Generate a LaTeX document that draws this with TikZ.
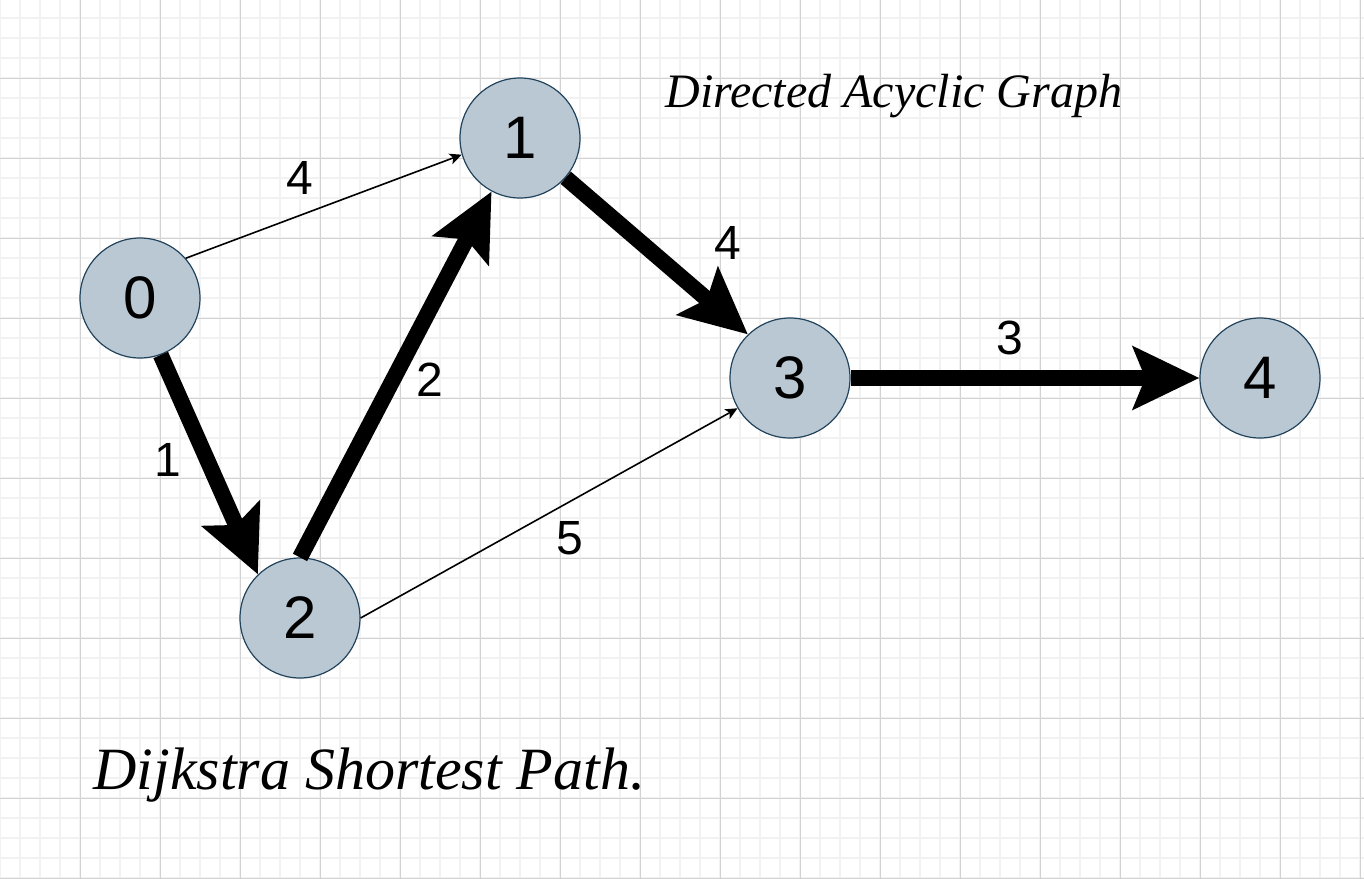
\documentclass[tikz,border=0pt]{standalone}
\usepackage{fontspec}
\setmainfont{Liberation Serif}
\setsansfont{Liberation Sans}
\usetikzlibrary{arrows.meta}
\definecolor{NodeFill}{HTML}{BAC8D3}
\definecolor{NodeLine}{HTML}{23445D}
\definecolor{MinorGrid}{HTML}{F2F2F2}
\definecolor{MajorGrid}{HTML}{D2D2D2}
\tikzset{
  vertex/.style={circle,draw=NodeLine,fill=NodeFill,line width=0.6pt,minimum size=60pt,inner sep=0pt,font=\sffamily\fontsize{30}{36}\selectfont},
  weight/.style={font=\sffamily\fontsize{24}{28}\selectfont,inner sep=0pt},
  path edge/.style={line width=8pt,-{Stealth[length=33pt,width=31pt,inset=6pt]}},
  plain edge/.style={line width=0.8pt,-{Stealth[length=6pt,width=5.5pt,inset=1.5pt]}},
}

\begin{document}
\begin{tikzpicture}[x=0.5pt,y=-0.5pt]
\useasboundingbox (0,0) rectangle (1364,878);
\fill[white] (0,0) rectangle (1364,878);

% grid paper
\foreach \gx in {0,20,...,1360} \draw[MinorGrid,line width=0.8pt] (\gx,0) -- (\gx,878);
\foreach \gy in {18,38,...,878} \draw[MinorGrid,line width=0.8pt] (0,\gy) -- (1364,\gy);
\foreach \gx in {80,160,...,1360} \draw[MajorGrid,line width=0.5pt] (\gx,0) -- (\gx,878);
\foreach \gy in {78,158,...,878} \draw[MajorGrid,line width=0.5pt] (0,\gy) -- (1364,\gy);

\node[vertex] (n0) at (140,298) {0};
\node[vertex] (n1) at (520,138) {1};
\node[vertex] (n2) at (300,618) {2};
\node[vertex] (n3) at (790,378) {3};
\node[vertex] (n4) at (1260,378) {4};

\draw[plain edge] (n0.41) -- (n1.196);
\draw[path edge] (n0.-70) -- (n2.134);
\draw[path edge] (n2.90) -- (n1.242);
\draw[path edge] (n1.-41) -- (n3.134);
\draw[plain edge] (n2.0) -- (n3.210);
\draw[path edge] (n3.0) -- (n4.180);

\node[weight] (w01) at (300,178) {4};
\node[weight] (w02) at (168,460) {1};
\node[weight] (w21) at (430,380) {2};
\node[weight] (w13) at (728,243) {4};
\node[weight] (w23) at (570,538) {5};
\node[weight] (w34) at (1010,338) {3};

\node[anchor=base west,inner sep=0pt,font=\itshape\fontsize{24}{29}\selectfont] (dag) at (665,107) {Directed Acyclic Graph};
\node[anchor=base west,inner sep=0pt,font=\itshape\fontsize{30}{36}\selectfont] (title) at (93,789) {Dijkstra Shortest Path.};

\end{tikzpicture}
\end{document}
